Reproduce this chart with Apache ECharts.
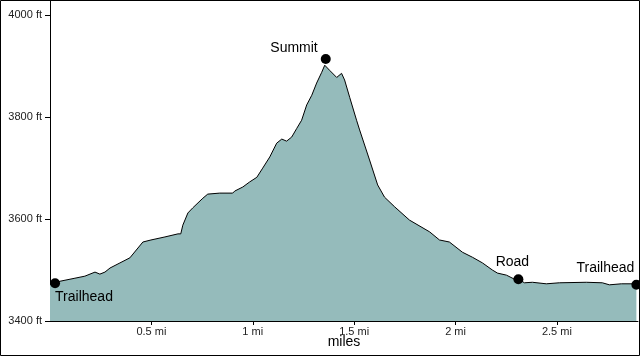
<!DOCTYPE html>
<html>
<head>
<meta charset="utf-8">
<script src="https://cdn.jsdelivr.net/npm/echarts@6/dist/echarts.min.js"></script>
<style>
html,body{margin:0;padding:0;background:#fff;}
#chart{width:640px;height:356px;}
</style>
</head>
<body>
<div id="chart"></div>
<script>
// Elevation profile (distance in miles, elevation in feet)
const distanceMiles = [0.000,0.025,0.049,0.123,0.172,0.222,0.246,0.271,0.296,0.345,0.394,0.458,0.498,0.567,0.631,0.645,0.655,0.680,0.704,0.754,0.778,0.837,0.901,0.911,0.951,0.985,1.020,1.049,1.084,1.118,1.143,1.167,1.192,1.217,1.241,1.266,1.291,1.315,1.340,1.355,1.379,1.414,1.438,1.453,1.478,1.512,1.527,1.576,1.616,1.650,1.700,1.773,1.872,1.921,1.970,2.034,2.084,2.133,2.182,2.207,2.251,2.291,2.310,2.340,2.379,2.448,2.512,2.645,2.724,2.759,2.818,2.872,2.892];
const elevationFt = [3472,3474,3478,3484,3488,3496,3492,3496,3504,3514,3524,3555,3559,3565,3571,3571,3588,3612,3622,3641,3649,3651,3651,3655,3663,3673,3682,3700,3722,3749,3757,3753,3761,3778,3794,3824,3843,3867,3888,3902,3892,3878,3886,3873,3839,3794,3775,3716,3667,3643,3624,3598,3575,3559,3555,3535,3525,3514,3500,3494,3490,3482,3482,3475,3476,3473,3475,3476,3475,3471,3473,3473,3471];

// Waypoints
const waypointNames = ['Trailhead','Summit','Road','Trailhead'];
const waypointMiles = [0.025,1.360,2.310,2.892];
const waypointFt = [3474,3914,3482,3471];

// Axis ticks
const yTicks = [3400,3600,3800,4000];
const xTickStep = 0.5;

const profile = distanceMiles.map((d,i)=>[d, elevationFt[i]]);
const waypointLabelCfg = [
  {align:'left', offset:[0,14]},
  {align:'right', offset:[-8,-11]},
  {align:'center', offset:[-6,-17]},
  {align:'right', offset:[-2,-17]}
];
const waypoints = waypointNames.map((n,i)=>({
  name:n,
  value:[waypointMiles[i], waypointFt[i]],
  label:{show:true, position:'inside', formatter:n, align:waypointLabelCfg[i].align, verticalAlign:'middle', offset:waypointLabelCfg[i].offset, color:'#000', fontSize:14, fontFamily:'Liberation Sans, Arial, sans-serif'}
}));

const chart = echarts.init(document.getElementById('chart'), null, {renderer:'canvas'});
chart.setOption({
  animation:false,
  backgroundColor:'#fff',
  grid:{left:50, right:2, top:1, bottom:35, containLabel:false, outerBoundsMode:'none'},
  xAxis:{
    type:'value', min:0, max:2.9, interval:xTickStep,
    name:'miles', nameLocation:'middle', nameGap:14, nameMoveOverlap:false,
    nameTextStyle:{fontSize:14, color:'#000', fontFamily:'Liberation Sans, Arial, sans-serif'},
    axisLine:{lineStyle:{color:'#000', width:1}},
    axisTick:{show:true, length:4, lineStyle:{color:'#000'}},
    axisLabel:{showMinLabel:false, showMaxLabel:false, margin:5, fontSize:11, color:'#222', fontFamily:'Liberation Sans, Arial, sans-serif',
      formatter:v=>v+' mi'},
    splitLine:{show:false}
  },
  yAxis:{
    type:'value', min:yTicks[0], max:4028, interval:200,
    axisLine:{show:true, lineStyle:{color:'#000', width:1}},
    axisTick:{show:true, length:5, lineStyle:{color:'#000'}},
    axisLabel:{showMaxLabel:false, margin:8, fontSize:11, color:'#222', fontFamily:'Liberation Sans, Arial, sans-serif',
      formatter:v=>yTicks.indexOf(v)>=0 ? v+' ft' : ''},
    splitLine:{show:false}
  },
  series:[
    {type:'line', data:profile, symbol:'none', smooth:false,
     lineStyle:{color:'#000', width:1}, areaStyle:{color:'#95BBBB', opacity:1}, z:2},
    {type:'scatter', data:waypoints, symbol:'circle', symbolSize:10, clip:false,
     itemStyle:{color:'#000', opacity:1}, z:5}
  ],
  graphic:[{type:'rect', shape:{x:0.5,y:0.5,width:639,height:355}, style:{fill:null, stroke:'#000', lineWidth:1}, z:100}]
});
</script>
</body>
</html>
